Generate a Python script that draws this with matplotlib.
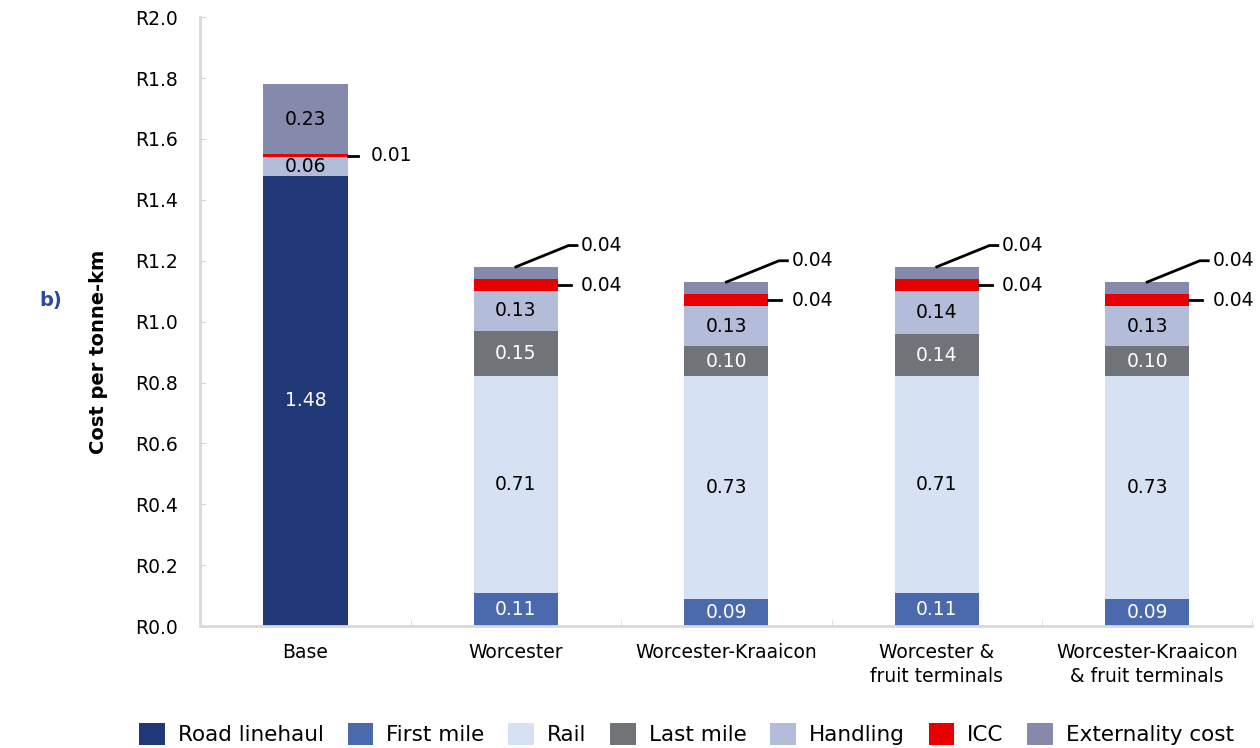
import matplotlib.pyplot as plt
import numpy as np

plt.rcParams['font.family'] = ['DejaVu Sans']

# scenarios
scenarios = ['Base', 'Worcester', 'Worcester-Kraaicon',
             'Worcester &\nfruit terminals', 'Worcester-Kraaicon\n& fruit terminals']

# cost components (R per tonne-km)
road_linehaul = [1.48, 0.00, 0.00, 0.00, 0.00]
first_mile = [0.00, 0.11, 0.09, 0.11, 0.09]
rail = [0.00, 0.71, 0.73, 0.71, 0.73]
last_mile = [0.00, 0.15, 0.10, 0.14, 0.10]
handling = [0.06, 0.13, 0.13, 0.14, 0.13]
icc = [0.01, 0.04, 0.04, 0.04, 0.04]
externality = [0.23, 0.04, 0.04, 0.04, 0.04]

components = ['Road linehaul', 'First mile', 'Rail', 'Last mile', 'Handling', 'ICC', 'Externality cost']
series = [road_linehaul, first_mile, rail, last_mile, handling, icc, externality]
colors = ['#213878', '#4a6aad', '#d6e2f3', '#707378', '#b3bcd9', '#e60000', '#8589ab']
text_colors = ['white', 'white', 'black', 'white', 'black', 'black', 'black']

fig = plt.figure(figsize=(12.6, 7.48), dpi=100)
ax = fig.add_axes([0.159, 0.163, 0.835, 0.814])

x = np.arange(len(scenarios))
width = 0.4
bottom = np.zeros(len(scenarios))
for name, vals, col, tc in zip(components, series, colors, text_colors):
    vals = np.array(vals)
    ax.bar(x, vals, width, bottom=bottom, color=col, label=name)
    for i, v in enumerate(vals):
        if v <= 0:
            continue
        inside = name not in ('ICC', 'Externality cost') or (i == 0 and name == 'Externality cost')
        if inside:
            ax.text(x[i], bottom[i] + v / 2, f'{v:.2f}', ha='center', va='center',
                    color=tc, fontsize=13.5)
    bottom += vals

# leader labels for ICC and externality
icc_bottom = np.array(road_linehaul) + np.array(first_mile) + np.array(rail) + \
    np.array(last_mile) + np.array(handling)
totals = bottom
for i in range(len(scenarios)):
    icc_mid = icc_bottom[i] + icc[i] / 2
    right = x[i] + width / 2
    if i == 0:
        ax.plot([right, right + 0.05], [icc_mid, icc_mid], color='black', lw=2)
    else:
        ax.plot([right, right + 0.06], [icc_mid, icc_mid], color='black', lw=2)
        ly = icc_mid + 0.13
        ax.plot([x[i], x[i] + 0.25, x[i] + 0.29], [totals[i], ly, ly], color='black', lw=2)
        ax.text(x[i] + 0.31, ly, f'{externality[i]:.2f}', ha='left', va='center', fontsize=13.5)
    ax.text(right + 0.11, icc_mid, f'{icc[i]:.2f}', ha='left', va='center', fontsize=13.5)

ax.set_xlim(-0.5, 4.5)
ax.set_ylim(0, 2.0)
ax.set_yticks(np.arange(0, 2.01, 0.2))
ax.set_yticklabels([f'R{v:.1f}' for v in np.arange(0, 2.01, 0.2)], fontsize=13.5)
ax.set_xticks(x)
ax.set_xticklabels(scenarios, fontsize=13.5, linespacing=1.35)
ax.set_xticks(np.arange(-0.5, 4.6, 1), minor=True)
ax.tick_params(axis='x', which='major', length=0, pad=12)
ax.tick_params(axis='x', which='minor', length=4, direction='in', color='#d9d9d9')
ax.tick_params(axis='y', length=4, direction='in', color='#d9d9d9', pad=16)
for s in ['top', 'right']:
    ax.spines[s].set_visible(False)
for s in ['left', 'bottom']:
    ax.spines[s].set_color('#d9d9d9')
    ax.spines[s].set_linewidth(2)

fig.text(0.078, 0.53, 'Cost per tonne-km', rotation=90, ha='center', va='center',
         fontsize=14, fontweight='bold')
fig.text(0.04, 0.598, 'b)', ha='center', va='center', fontsize=14, fontweight='bold',
         color='#2e4a9e')

fig.legend(loc='lower center', bbox_to_anchor=(0.545, -0.022), ncol=7, frameon=False,
           fontsize=15.5, handlelength=1.2, handleheight=1.2, handletextpad=0.6,
           columnspacing=1.1)

fig.savefig('out.png', dpi=100)
